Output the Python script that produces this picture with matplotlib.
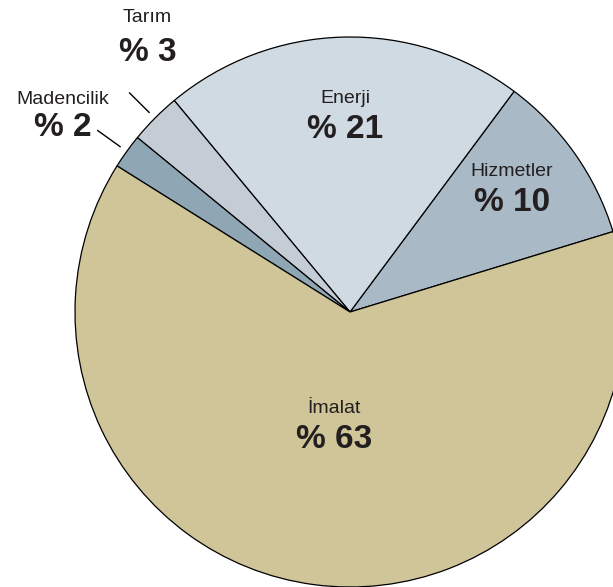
import numpy as np
import matplotlib
matplotlib.use("Agg")
import matplotlib.pyplot as plt

# sector shares (%)
sectors = ["Hizmetler", "Enerji", "Tarım", "Madencilik", "İmalat"]
shares = [10, 21, 3, 2, 63]
colors = ["#a9b9c6", "#cfdae2", "#c4cdd6", "#8fa7b5", "#cfc598"]

TEXT = "#231f20"
FONT = ["Liberation Sans", "DejaVu Sans"]


def main() -> None:
    fig = plt.figure(figsize=(6.13, 5.87), dpi=100)
    ax = fig.add_axes([0, 0, 1, 1])

    wedges, _ = ax.pie(
        shares,
        colors=colors,
        startangle=17,
        counterclock=True,
        wedgeprops={"edgecolor": "black", "linewidth": 0.9},
    )

    # pie centre sits left of middle and is cut off at the right and bottom
    ax.set_xlim(-350 / 275, 263 / 275)
    ax.set_ylim(-275 / 275, 312 / 275)
    ax.set_aspect("equal", adjustable="box")
    ax.axis("off")

    inside = {
        "Hizmetler": 0.72,
        "Enerji": 0.68,
        "İmalat": 0.45,
    }
    # small slices: (dx, dy, name gap) in points from the end of the leader line
    outside = {
        "Tarım": (13, 18, 30),
        "Madencilik": (-25, -9, 25),
    }

    for w, name, val in zip(wedges, sectors, shares):
        mid = np.deg2rad((w.theta1 + w.theta2) / 2)
        cx, cy = np.cos(mid), np.sin(mid)
        if name in inside:
            r = inside[name]
            x, y = r * cx, r * cy
            ax.text(x, y + 0.065, name, ha="center", va="bottom",
                    fontsize=14, color=TEXT, family=FONT)
            ax.text(x, y + 0.04, f"% {val}", ha="center", va="top",
                    fontsize=24, fontweight="bold", color=TEXT, family=FONT)
        else:
            x0, y0 = 1.03 * cx, 1.03 * cy
            x1, y1 = 1.13 * cx, 1.13 * cy
            ax.plot([x0, x1], [y0, y1], color="black", lw=1.0)
            dx, dy, gap = outside[name]
            ax.annotate(f"% {val}", (x1, y1), xytext=(dx, dy),
                        textcoords="offset points", ha="center", va="bottom",
                        fontsize=24, fontweight="bold", color=TEXT, family=FONT)
            ax.annotate(name, (x1, y1), xytext=(dx, dy + gap),
                        textcoords="offset points", ha="center", va="bottom",
                        fontsize=14, color=TEXT, family=FONT)

    fig.savefig("out.png", dpi=100)
    plt.close(fig)


if __name__ == "__main__":
    main()
